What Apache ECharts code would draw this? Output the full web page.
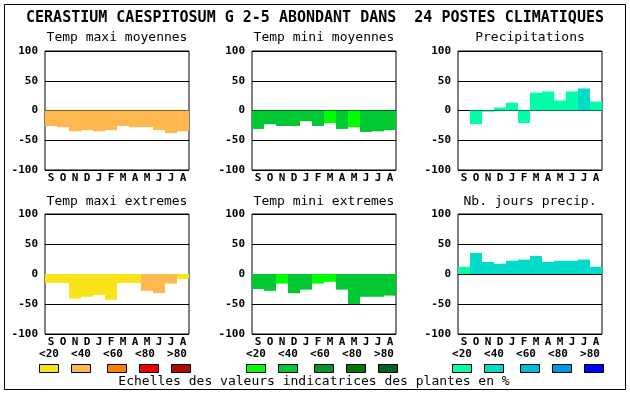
<!DOCTYPE html>
<html>
<head>
<meta charset="utf-8">
<script src="https://cdn.jsdelivr.net/npm/echarts@6/dist/echarts.min.js"></script>
<style>
html,body{margin:0;padding:0;background:#fff;}
#c{width:630px;height:394px;}
</style>
</head>
<body>
<div id="c"></div>
<script>
// ---- data ----
var months = ['S','O','N','D','J','F','M','A','M','J','J','A'];
var yTicks = [-100, -50, 0, 50, 100];
var mainTitle = 'CERASTIUM CAESPITOSUM G 2-5 ABONDANT DANS  24 POSTES CLIMATIQUES';
var footer = 'Echelles des valeurs indicatrices des plantes en %';
var classLabels = ['<20', '<40', '<60', '<80', '>80'];

var panelTitles = ['Temp maxi moyennes', 'Temp mini moyennes', 'Precipitations',
                   'Temp maxi extremes', 'Temp mini extremes', 'Nb. jours precip.'];

var tempMaxiMoy      = [-26, -28, -35, -33, -35, -33, -26, -28, -28, -33, -38, -35];
var tempMaxiMoyClass = [1, 1, 1, 1, 1, 1, 1, 1, 1, 1, 1, 1];

var tempMiniMoy      = [-31, -23, -26, -26, -18, -26, -21, -31, -28, -36, -35, -33];
var tempMiniMoyClass = [1, 1, 1, 1, 1, 1, 0, 1, 0, 1, 1, 1];

var precip           = [0, -23, -2, 5, 13, -21, 30, 32, 17, 32, 37, 15];
var precipClass      = [0, 0, 0, 0, 0, 0, 0, 0, 0, 0, 1, 0];

var tempMaxiExt      = [-15, -15, -41, -38, -35, -43, -15, -15, -28, -32, -16, -8];
var tempMaxiExtClass = [0, 0, 0, 0, 0, 0, 0, 0, 1, 1, 1, 0];

var tempMiniExt      = [-25, -28, -16, -32, -26, -16, -13, -26, -50, -38, -38, -36];
var tempMiniExtClass = [1, 1, 0, 1, 1, 0, 0, 1, 1, 1, 1, 1];

var joursPrecip      = [12, 35, 20, 17, 22, 24, 30, 20, 22, 22, 24, 12];
var joursPrecipClass = [0, 1, 1, 1, 1, 1, 1, 1, 1, 1, 1, 1];

var paletteMaxi   = ['#F8E418', '#FFB850', '#FF8000', '#EE0000', '#B00C00'];
var paletteMini   = ['#00FF00', '#00C832', '#00962A', '#007800', '#006020'];
var palettePrecip = ['#00FFAA', '#00DCC8', '#00BCDC', '#0096E6', '#0000FF'];

// ---- layout ----
var MONO = '"DejaVu Sans Mono", "Liberation Mono", monospace';
var gridLefts = [45, 252, 458];
var gridTops = [51, 214];
var gridW = 144, gridH = 119;

var panels = [
  {v: tempMaxiMoy, c: tempMaxiMoyClass, p: paletteMaxi},
  {v: tempMiniMoy, c: tempMiniMoyClass, p: paletteMini},
  {v: precip, c: precipClass, p: palettePrecip},
  {v: tempMaxiExt, c: tempMaxiExtClass, p: paletteMaxi},
  {v: tempMiniExt, c: tempMiniExtClass, p: paletteMini},
  {v: joursPrecip, c: joursPrecipClass, p: palettePrecip}
];

var grids = [], xAxes = [], yAxes = [], series = [], graphics = [];

graphics.push({type: 'rect', shape: {x: 4.5, y: 4.5, width: 621, height: 385},
  style: {fill: null, stroke: '#000', lineWidth: 1}, silent: true});
graphics.push({type: 'text', x: 315, y: 18,
  style: {text: mainTitle, font: 'bold 15px ' + MONO, fill: '#000', textAlign: 'center', textVerticalAlign: 'middle'}});
graphics.push({type: 'text', x: 314, y: 382,
  style: {text: footer, font: '13px ' + MONO, fill: '#000', textAlign: 'center', textVerticalAlign: 'middle'}});

panels.forEach(function (pn, i) {
  var col = i % 3, row = Math.floor(i / 3);
  var left = gridLefts[col], top = gridTops[row];
  var h = row === 0 ? gridH : 120;
  grids.push({left: left, top: top, width: gridW, height: h, show: true,
    borderColor: '#000', borderWidth: 1, backgroundColor: '#fff', containLabel: false});
  xAxes.push({type: 'category', gridIndex: i, data: months,
    axisLine: {show: false}, axisTick: {show: false}, splitLine: {show: false},
    axisLabel: {color: '#000', fontFamily: MONO, fontWeight: 'bold', fontSize: 11, margin: 3, interval: 0}});
  yAxes.push({type: 'value', gridIndex: i, min: yTicks[0], max: yTicks[yTicks.length - 1], interval: 50,
    axisLine: {show: false}, axisTick: {show: false},
    splitLine: {show: true, lineStyle: {color: '#000', width: 1}},
    axisLabel: {color: '#000', fontFamily: MONO, fontWeight: 'bold', fontSize: 11, margin: 7}});
  series.push({type: 'bar', xAxisIndex: i, yAxisIndex: i, barCategoryGap: '0%', barGap: '0%',
    animation: false, silent: true, z: 1,
    data: pn.v.map(function (v, k) { return {value: v, itemStyle: {color: pn.p[pn.c[k]]}}; })});
  graphics.push({type: 'text', x: left + gridW / 2, y: row === 0 ? 38 : 202,
    style: {text: panelTitles[i], font: '13px ' + MONO, fill: '#000', textAlign: 'center', textVerticalAlign: 'middle'}});
  if (row === 1) {
    var swOff = [-6, 26, 62, 94, 126];
    classLabels.forEach(function (lab, k) {
      graphics.push({type: 'text', x: left + 4 + 32 * k, y: 354,
        style: {text: lab, font: 'bold 11px ' + MONO, fill: '#000', textAlign: 'center', textVerticalAlign: 'middle'}});
      graphics.push({type: 'rect', shape: {x: left + swOff[k] + 0.5, y: 364.5, width: 19, height: 8},
        style: {fill: pn.p[k], stroke: '#000', lineWidth: 1}});
    });
  }
});

var chart = echarts.init(document.getElementById('c'), null, {renderer: 'canvas'});
chart.setOption({
  animation: false,
  backgroundColor: '#fff',
  grid: grids, xAxis: xAxes, yAxis: yAxes, series: series, graphic: graphics
});
</script>
</body>
</html>
